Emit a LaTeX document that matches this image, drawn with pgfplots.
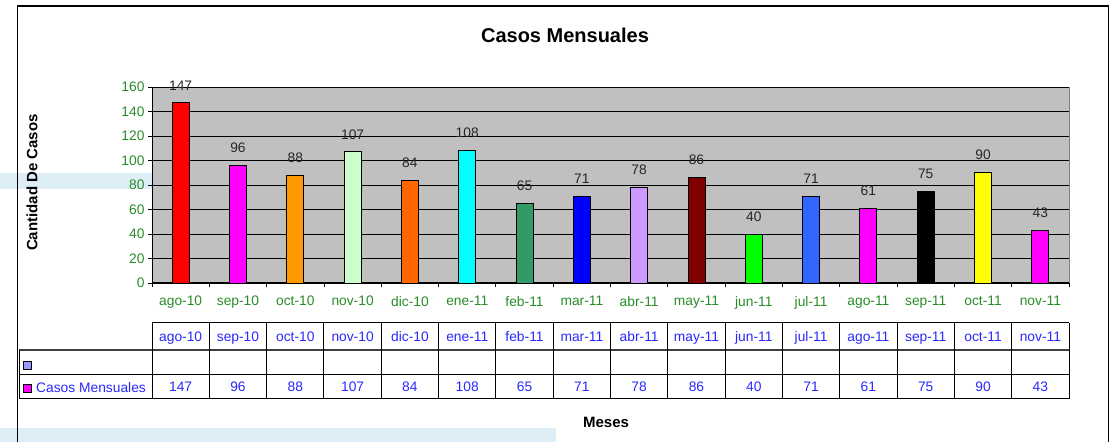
\documentclass[border=0pt]{standalone}
\usepackage{pgfplots}
\pgfplotsset{compat=1.18}
\usepackage{pgfplotstable}
\usepackage{fontspec}
\setmainfont{Liberation Sans}
\definecolor{tickgreen}{RGB}{40,140,40}
\definecolor{tblue}{RGB}{40,40,255}
\definecolor{plotgray}{RGB}{192,192,192}
\definecolor{cA}{RGB}{255,0,0}
\definecolor{cB}{RGB}{255,0,255}
\definecolor{cC}{RGB}{255,153,0}
\definecolor{cD}{RGB}{204,255,204}
\definecolor{cE}{RGB}{255,102,0}
\definecolor{cF}{RGB}{0,255,255}
\definecolor{cG}{RGB}{51,153,102}
\definecolor{cH}{RGB}{0,0,255}
\definecolor{cI}{RGB}{204,153,255}
\definecolor{cJ}{RGB}{128,0,0}
\definecolor{cK}{RGB}{0,255,0}
\definecolor{cL}{RGB}{51,102,255}
\definecolor{cM}{RGB}{255,0,255}
\definecolor{cN}{RGB}{0,0,0}
\definecolor{cO}{RGB}{255,255,0}
\definecolor{cP}{RGB}{255,0,255}
\definecolor{lav}{RGB}{153,153,255}
\definecolor{wmblue}{RGB}{222,238,246}
\newcommand{\tf}{\fontsize{13.8}{16}\selectfont}

\pgfplotstableread{
x mes casos
0 ago-10 147
1 sep-10 96
2 oct-10 88
3 nov-10 107
4 dic-10 84
5 ene-11 108
6 feb-11 65
7 mar-11 71
8 abr-11 78
9 may-11 86
10 jun-11 40
11 jul-11 71
12 ago-11 61
13 sep-11 75
14 oct-11 90
15 nov-11 43
}\datos

\begin{document}
\begin{tikzpicture}
\useasboundingbox (0,0) rectangle (1116pt,442pt);
\begin{scope}[x=1pt,y=-1pt,yshift=442pt]
  \fill[wmblue] (0,173) rectangle (152,189);
  \fill[wmblue] (0,428) rectangle (556,442);
\end{scope}
\begin{axis}[
  at={(152pt,159pt)}, anchor=south west, scale only axis,
  width=917pt, height=196pt,
  xmin=-0.5, xmax=15.5, ymin=0, ymax=160,
  ytick={0,20,...,160},
  xtick={0,...,15},
  xticklabels from table={\datos}{mes},
  minor xtick={-0.5,0.5,...,15.5},
  tick align=outside,
  major tick length=4pt, minor tick length=4pt,
  major x tick style={draw=none},
  tick style={black, line width=0.8pt},
  axis x line*=bottom, axis y line*=left,
  axis line style={black, line width=1pt},
  axis background/.style={fill=plotgray, draw=gray},
  ymajorgrids, grid style={black, line width=0.7pt},
  ybar, bar width=17pt, bar shift=0pt,
  nodes near coords,
  nodes near coords style={font=\tf, text=black!85, anchor=south, yshift=9pt},
  every axis plot/.append style={draw=black, line width=0.9pt},
  tick label style={font=\tf, text=tickgreen},
  x tick label style={yshift=-5.5pt},
  /pgf/number format/assume math mode=true,
  clip=false,
]
\addplot[fill=cA] coordinates {(0,147)};
\addplot[fill=cB] coordinates {(1,96)};
\addplot[fill=cC] coordinates {(2,88)};
\addplot[fill=cD] coordinates {(3,107)};
\addplot[fill=cE] coordinates {(4,84)};
\addplot[fill=cF] coordinates {(5,108)};
\addplot[fill=cG] coordinates {(6,65)};
\addplot[fill=cH] coordinates {(7,71)};
\addplot[fill=cI] coordinates {(8,78)};
\addplot[fill=cJ] coordinates {(9,86)};
\addplot[fill=cK] coordinates {(10,40)};
\addplot[fill=cL] coordinates {(11,71)};
\addplot[fill=cM] coordinates {(12,61)};
\addplot[fill=cN] coordinates {(13,75)};
\addplot[fill=cO] coordinates {(14,90)};
\addplot[fill=cP] coordinates {(15,43)};
\end{axis}
\begin{scope}[x=1pt,y=-1pt,yshift=442pt]
  % outer frame
  \draw[line width=1.5pt] (17.7,442) -- (17.7,6) -- (1108.5,6) -- (1108.5,442);
  % title and labels
  \node[font=\fontsize{20}{24}\selectfont\bfseries] at (565,35) {Casos Mensuales};
  \node[font=\fontsize{15}{18}\selectfont\bfseries, rotate=90] at (32,182.5) {Cantidad De Casos};
  \node[font=\fontsize{15}{18}\selectfont\bfseries] at (606,422) {Meses};
  % data table
  \draw[line width=1pt] (152,323) -- (1069,323);
  \draw[line width=1.6pt, black!75] (19,350) -- (1069,350);
  \draw[line width=1pt] (19,374.5) -- (1069,374.5) (19,398.5) -- (1069,398.5);
  \draw[line width=1pt] (19,350) -- (19,398.5);
  \foreach \k in {0,...,16} \draw[line width=1pt] ({152+\k*57.3125},323) -- ({152+\k*57.3125},398.5);
  \pgfplotstableforeachcolumnelement{mes}\of\datos\as\cell{%
    \pgfmathsetmacro\xx{152+(\pgfplotstablerow+0.5)*57.3125}%
    \node[text=tblue, font=\tf, anchor=base] at (\xx,341) {\cell};
  }
  \pgfplotstableforeachcolumnelement{casos}\of\datos\as\cell{%
    \pgfmathsetmacro\xx{152+(\pgfplotstablerow+0.5)*57.3125}%
    \node[text=tblue, font=\tf, anchor=base] at (\xx,391.5) {\cell};
  }
  \draw[line width=0.8pt, fill=lav] (23,361) rectangle (31,369.3);
  \draw[line width=0.8pt, fill=cB] (23,384.3) rectangle (31,392.6);
  \node[text=tblue, font=\tf, anchor=base west, inner sep=0pt] at (36,392) {Casos Mensuales};
\end{scope}
\end{tikzpicture}
\end{document}
